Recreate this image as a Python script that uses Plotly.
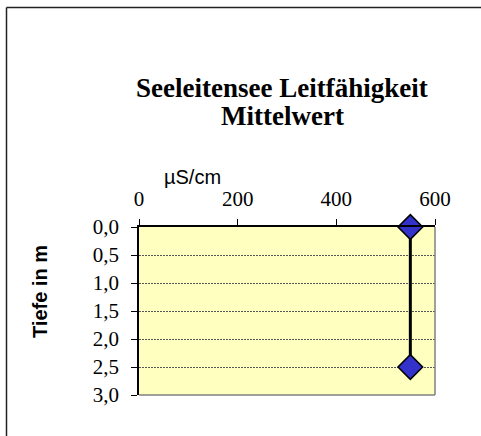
import plotly.graph_objects as go

# Mean conductivity profile of the Seeleitensee
tiefe = [0.0, 2.5]              # depth in m
leitfaehigkeit = [550, 550]     # conductivity in µS/cm

y_ticks = [0.0, 0.5, 1.0, 1.5, 2.0, 2.5, 3.0]
y_tick_labels = ["0,0", "0,5", "1,0", "1,5", "2,0", "2,5", "3,0"]
x_ticks = [0, 200, 400, 600]
title_lines = ["Seeleitensee Leitfähigkeit", "Mittelwert"]

W, H = 481, 436
L, R, T, B = 139, 435, 227, 395   # plot area in pixels

def px(x):
    return (x - L) / (R - L)

def py(y):
    return (B - y) / (B - T)

fig = go.Figure()
fig.add_trace(go.Scatter(
    x=leitfaehigkeit, y=tiefe, mode="lines+markers",
    line=dict(color="black", width=3),
    marker=dict(symbol="diamond", size=19, color="#3333CC",
                line=dict(color="black", width=1.5)),
    cliponaxis=False, showlegend=False,
))

serif = "Liberation Serif, Times New Roman, serif"
sans = "Liberation Sans, Arial, sans-serif"

title_annotations = [
    dict(text=f"<b>{line}</b>", xref="paper", yref="paper",
         x=px(282), y=py(ypix), xanchor="center", yanchor="middle",
         showarrow=False, font=dict(family=serif, size=27, color="black"))
    for line, ypix in zip(title_lines, [88, 116])
]

fig.update_layout(
    width=W, height=H,
    margin=dict(l=L, r=W - R, t=T, b=H - B),
    paper_bgcolor="white",
    plot_bgcolor="#FFFFC0",
    xaxis=dict(
        side="top", range=[0, 600], tickvals=x_ticks,
        showgrid=False, zeroline=False,
        showline=True, linecolor="black", linewidth=1.5,
        ticks="outside", ticklen=6, tickcolor="black",
        ticklabelstandoff=5,
        tickfont=dict(family=serif, size=21, color="black"),
    ),
    yaxis=dict(
        range=[3, 0], tickvals=y_ticks, ticktext=y_tick_labels,
        showgrid=True, gridcolor="#555555", griddash="2px,1px", gridwidth=1,
        zeroline=False,
        showline=True, linecolor="black", linewidth=1.5,
        ticks="outside", ticklen=6, tickcolor="black",
        ticklabelstandoff=8,
        tickfont=dict(family=serif, size=21, color="black"),
    ),
    annotations=title_annotations + [
        dict(text="µS/cm", xref="paper", yref="paper", x=px(162), y=py(177),
             xanchor="left", yanchor="middle", showarrow=False,
             font=dict(family=sans, size=20, color="black")),
        dict(text="<b>Tiefe in m</b>", xref="paper", yref="paper",
             x=px(40), y=py(291), xanchor="center", yanchor="middle",
             textangle=-90, showarrow=False,
             font=dict(family=sans, size=20, color="black")),
    ],
    shapes=[
        # right and bottom plot borders
        dict(type="line", xref="paper", yref="paper", x0=1, x1=1, y0=0, y1=1,
             line=dict(color="#808080", width=1.5)),
        dict(type="line", xref="paper", yref="paper", x0=0, x1=1, y0=0, y1=0,
             line=dict(color="#808080", width=1.5)),
        # outer chart frame
        dict(type="line", xref="paper", yref="paper", x0=px(6.5), x1=px(481),
             y0=py(7.5), y1=py(7.5), line=dict(color="#222222", width=1.5)),
        dict(type="line", xref="paper", yref="paper", x0=px(6.5), x1=px(6.5),
             y0=py(7.5), y1=py(436), line=dict(color="#222222", width=1.5)),
    ],
)

fig.write_html("out.html")
